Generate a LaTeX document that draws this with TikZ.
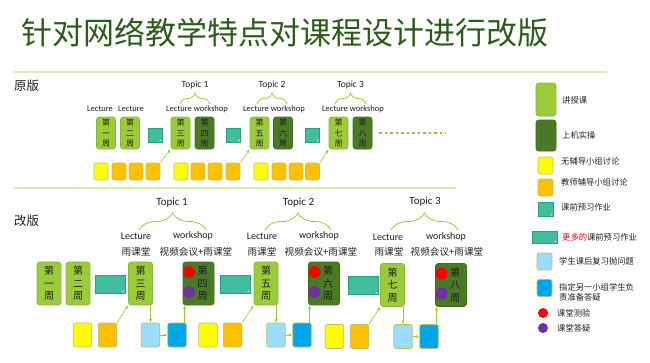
\documentclass[tikz,border=0pt]{standalone}
\usepackage{fontspec}
\setmainfont{Carlito}
\newfontfamily\cjk{Noto Sans CJK SC}
\usetikzlibrary{arrows.meta,calc,shapes.misc,decorations.pathreplacing}
\definecolor{ink}{HTML}{1E1E1E}
\definecolor{headgreen}{HTML}{2D5A1B}
\definecolor{sepgreen}{HTML}{D6ECB4}
\definecolor{lecgreen}{HTML}{9BCB3B}
\definecolor{lecedge}{HTML}{86B838}
\definecolor{labgreen}{HTML}{4A7A25}
\definecolor{labedge}{HTML}{3E6B1F}
\definecolor{selfyellow}{HTML}{FFFF00}
\definecolor{tutororange}{HTML}{FFC000}
\definecolor{tileedge}{HTML}{B3C466}
\definecolor{prepteal}{HTML}{40BF9F}
\definecolor{prepedge}{HTML}{2E9C80}
\definecolor{reviewblue}{HTML}{9BDCFF}
\definecolor{answerblue}{HTML}{00A6EA}
\definecolor{quizred}{HTML}{FF0000}
\definecolor{qapurple}{HTML}{7030A0}
\definecolor{linkgreen}{HTML}{9BCB3B}
\definecolor{dotgreen}{HTML}{8CC63F}
\definecolor{morered}{HTML}{FF0000}
\tikzset{
  >=Latex,
  every node/.style={text=ink},
  headline/.style={anchor=west,inner sep=0pt,text=headgreen,font=\cjk\fontsize{31}{34}\selectfont},
  sectitle/.style={inner sep=0pt,font=\cjk\fontsize{12.5}{14}\selectfont},
  sepline/.style={draw=sepgreen,line width=1.6pt},
  wkbox/.style={rounded corners=2.5pt,draw=lecedge,fill=lecgreen,align=center,inner sep=0pt,line width=0.6pt},
  lec/.style={wkbox,minimum width=19pt,minimum height=32pt,font=\cjk\fontsize{8}{10.5}\selectfont},
  lab/.style={lec,fill=labgreen,draw=labedge},
  rlec/.style={wkbox,minimum width=24pt,minimum height=43pt,font=\cjk\fontsize{10}{12.5}\selectfont},
  rlab/.style={rlec,fill=labgreen,draw=labedge,minimum width=31pt},
  wktext/.style={align=center,inner sep=0pt,font=\cjk\fontsize{10}{12.5}\selectfont},
  tile/.style={rounded corners=2pt,draw=tileedge,line width=0.6pt,minimum width=14pt,minimum height=17pt,inner sep=0pt},
  selftile/.style={tile,fill=selfyellow},
  tutortile/.style={tile,fill=tutororange},
  rtile/.style={tile,minimum width=18.5pt,minimum height=24pt},
  rself/.style={rtile,fill=selfyellow},
  rtutor/.style={rtile,fill=tutororange},
  reviewtile/.style={rtile,fill=reviewblue},
  answertile/.style={rtile,fill=answerblue},
  prep/.style={chamfered rectangle,chamfered rectangle corners=south east,
    chamfered rectangle xsep=2.5pt,chamfered rectangle ysep=2.5pt,
    draw=prepedge,fill=prepteal,line width=0.5pt,inner sep=0pt,minimum width=14pt,minimum height=14pt,
    path picture={\fill[prepteal!45!white] ($(path picture bounding box.south east)+(-2.5pt,0pt)$) -- ++(0pt,2.5pt) -- ++(2.5pt,0pt) -- cycle;}},
  rprep/.style={prep,minimum width=30pt,minimum height=18pt},
  quiz/.style={circle,fill=quizred,inner sep=0pt,minimum size=12pt},
  qa/.style={circle,fill=qapurple,inner sep=0pt,minimum size=12pt},
  link/.style={-{Latex[length=3.5pt,width=3pt]},draw=linkgreen,line width=0.6pt},
  topicbrace/.style={decorate,decoration={brace,amplitude=#1},draw=linkgreen,line width=0.8pt},
  otopic/.style={inner sep=0pt,font=\fontsize{9.5}{11}\selectfont},
  omode/.style={inner sep=0pt,font=\fontsize{8.5}{10}\selectfont},
  rtopic/.style={inner sep=0pt,font=\fontsize{11}{13}\selectfont},
  rmode/.style={inner sep=0pt,font=\fontsize{10}{12}\selectfont},
  rtool/.style={inner sep=0pt,font=\cjk\fontsize{9.6}{12}\selectfont},
  dots/.style={draw=dotgreen,line width=2.5pt,dash pattern=on 2.5pt off 3pt},
  keytext/.style={anchor=west,align=left,inner sep=0pt,font=\cjk\fontsize{8.3}{10.5}\selectfont},
}

\begin{document}
\begin{tikzpicture}[x=1pt,y=-1pt]
  \useasboundingbox (0,0) rectangle (650,362);
  \node[headline] (head) at (21,33) {针对网络教学特点对课程设计进行改版};
  \draw[sepline] (14,72) -- (607,72);
  \draw[sepline] (14,188) -- (456,188);
  \node[sectitle] (old) at (26.5,86) {原版};
  \node[sectitle] (new) at (26.5,221) {改版};

  \node[otopic] (otopic1) at (195,85) {Topic 1};
  \node[otopic] (otopic2) at (272,85) {Topic 2};
  \node[otopic] (otopic3) at (350.5,85) {Topic 3};
  \draw[topicbrace=11pt] (180,104) -- (210,104);
  \draw[topicbrace=11pt] (257,104) -- (287,104);
  \draw[topicbrace=11pt] (335,104) -- (366,104);
  \node[omode] (omode1) at (100,109) {Lecture};
  \node[omode] (omode2) at (131,109) {Lecture};
  \node[omode] (omode3) at (197,109) {Lecture workshop};
  \node[omode] (omode4) at (274,109) {Lecture workshop};
  \node[omode] (omode5) at (353,109) {Lecture workshop};

  \node[lec] (wk1) at (106,133) {第\\一\\周};
  \node[lec] (wk2) at (130,133) {第\\二\\周};
  \node[prep] (prep1) at (155,135) {};
  \node[lec] (wk3) at (180.5,133) {第\\三\\周};
  \node[lab] (wk4) at (204.5,133) {第\\四\\周};
  \node[prep] (prep2) at (233.5,135) {};
  \node[lec] (wk5) at (259.5,133) {第\\五\\周};
  \node[lab] (wk6) at (283,133) {第\\六\\周};
  \node[prep] (prep3) at (312.5,135) {};
  \node[lec] (wk7) at (338.5,133) {第\\七\\周};
  \node[lab] (wk8) at (362.5,133) {第\\八\\周};
  \coordinate (etcA) at (379,133);
  \coordinate (etcB) at (446,133);
  \draw[dots] (etcA) -- (etcB);

  \node[selftile] (self1) at (101,171.5) {};
  \node[tutortile] (tutor1a) at (119,171.5) {};
  \node[tutortile] (tutor1b) at (136,171.5) {};
  \node[tutortile] (tutor1c) at (153,171.5) {};
  \node[selftile] (self2) at (181,171.5) {};
  \node[tutortile] (tutor2a) at (198,171.5) {};
  \node[tutortile] (tutor2b) at (215,171.5) {};
  \node[tutortile] (tutor2c) at (233,171.5) {};
  \node[selftile] (self3) at (261,171.5) {};
  \node[tutortile] (tutor3a) at (279,171.5) {};
  \node[tutortile] (tutor3b) at (296,171.5) {};
  \node[tutortile] (tutor3c) at (312.5,171.5) {};
  \draw[link] (tutor1c.north east) -- (wk3.south west);
  \draw[link] (tutor2c.north east) -- (wk5.south west);
  \draw[link] (tutor3c.north east) -- (wk7.south west);

  \node[rtopic] (rtopic1) at (172,203) {Topic 1};
  \node[rtopic] (rtopic2) at (298.5,203) {Topic 2};
  \node[rtopic] (rtopic3) at (425,202) {Topic 3};
  \draw[topicbrace=17pt] (139,230) -- (206,230);
  \draw[topicbrace=17pt] (265,230) -- (331,230);
  \draw[topicbrace=17pt] (391,230) -- (458,230);
  \node[rmode] (rmode1) at (136,236) {Lecture};
  \node[rmode] (rmode2) at (193,236) {workshop};
  \node[rmode] (rmode3) at (262,236) {Lecture};
  \node[rmode] (rmode4) at (319,236) {workshop};
  \node[rmode] (rmode5) at (388,237) {Lecture};
  \node[rmode] (rmode6) at (446,237) {workshop};
  \node[rtool] (rtool1) at (136,252) {雨课堂};
  \node[rtool] (rtool2) at (196,252) {视频会议+雨课堂};
  \node[rtool] (rtool3) at (262,252) {雨课堂};
  \node[rtool] (rtool4) at (321,252) {视频会议+雨课堂};
  \node[rtool] (rtool5) at (389,252) {雨课堂};
  \node[rtool] (rtool6) at (447,252) {视频会议+雨课堂};

  \node[rlec] (rwk1) at (49,283.5) {第\\一\\周};
  \node[rlec] (rwk2) at (78,283.5) {第\\二\\周};
  \node[rprep] (rprep1) at (110,284) {};
  \node[rlec] (rwk3) at (140.5,283.5) {第\\三\\周};
  \node[rlab] (rwk4) at (198.5,283.5) {};
  \node[wktext] (rwk4t) at ($(rwk4.center)+(4,0)$) {第\\四\\周};
  \node[quiz] (quiz4) at ($(rwk4.center)+(-9.5,-11.5)$) {};
  \node[qa] (qa4) at ($(rwk4.center)+(-9.5,8.5)$) {};
  \node[rprep] (rprep2) at (235,284) {};
  \node[rlec] (rwk5) at (266,283.5) {第\\五\\周};
  \node[rlab] (rwk6) at (324,283.5) {};
  \node[wktext] (rwk6t) at ($(rwk6.center)+(4,0)$) {第\\六\\周};
  \node[quiz] (quiz6) at ($(rwk6.center)+(-9.5,-11.5)$) {};
  \node[qa] (qa6) at ($(rwk6.center)+(-9.5,8.5)$) {};
  \node[rprep] (rprep3) at (363,285.5) {};
  \node[rlec] (rwk7) at (392.5,285) {第\\七\\周};
  \node[rlab] (rwk8) at (451,285) {};
  \node[wktext] (rwk8t) at ($(rwk8.center)+(4,0)$) {第\\八\\周};
  \node[quiz] (quiz8) at ($(rwk8.center)+(-9.5,-11.5)$) {};
  \node[qa] (qa8) at ($(rwk8.center)+(-9.5,8.5)$) {};

  \node[rself] (rself1) at (82.5,335) {};
  \node[rtutor] (rtutor1) at (107.5,335) {};
  \node[reviewtile] (review1) at (150.5,335) {};
  \node[answertile] (answer1) at (177,335) {};
  \node[rself] (rself2) at (208,335) {};
  \node[rtutor] (rtutor2) at (232.5,335) {};
  \node[reviewtile] (review2) at (276,335) {};
  \node[answertile] (answer2) at (302,335) {};
  \node[rself] (rself3) at (334.5,336.5) {};
  \node[rtutor] (rtutor3) at (359.5,336.5) {};
  \node[reviewtile] (review3) at (403,336.5) {};
  \node[answertile] (answer3) at (429,336.5) {};
  \draw[link] (rtutor1.north east) -- (rwk3.south west);
  \draw[link] (rwk3.south -| review1.north) -- (review1.north);
  \draw[link] (review1) -- (answer1);
  \draw[link] ([xshift=7.5pt]answer1.north) -- ([xshift=7.5pt]answer1.north |- rwk4.south);
  \draw[link] (rtutor2.north east) -- (rwk5.south west);
  \draw[link] (rwk5.south -| review2.north) -- (review2.north);
  \draw[link] (review2) -- (answer2);
  \draw[link] ([xshift=7.5pt]answer2.north) -- ([xshift=7.5pt]answer2.north |- rwk6.south);
  \draw[link] (rtutor3.north east) -- (rwk7.south west);
  \draw[link] (rwk7.south -| review3.north) -- (review3.north);
  \draw[link] (review3) -- (answer3);
  \draw[link] ([xshift=7.5pt]answer3.north) -- ([xshift=7.5pt]answer3.north |- rwk8.south);

  \node[lec,minimum width=20pt,minimum height=33pt] (keylec) at (546,99.5) {};
  \node[keytext] (keylect) at (562,100) {讲授课};
  \node[lab,minimum width=20pt,minimum height=31pt] (keylab) at (546,135.5) {};
  \node[keytext] (keylabt) at (562,135) {上机实操};
  \node[selftile,minimum width=15pt] (keyself) at (545.5,165.5) {};
  \node[keytext] (keyselft) at (561,161) {无辅导小组讨论};
  \node[tutortile,minimum width=15pt] (keytutor) at (545.5,187.5) {};
  \node[keytext] (keytutort) at (561,182) {教师辅导小组讨论};
  \node[prep,minimum width=15pt] (keyprep) at (545.5,209) {};
  \node[keytext] (keyprept) at (561,207) {课前预习作业};
  \node[rprep,minimum width=25pt,minimum height=12pt] (keymore) at (544.5,237) {};
  \node[keytext] (keymoret) at (562,237) {\textcolor{morered}{更多的}课前预习作业};
  \node[reviewtile,minimum width=15pt,minimum height=17pt] (keyreview) at (544.5,261.5) {};
  \node[keytext] (keyreviewt) at (559,261) {学生课后复习抛问题};
  \node[answertile,minimum width=15pt,minimum height=17pt] (keyanswer) at (544.5,288) {};
  \node[keytext] (keyanswert) at (559,292.5) {指定另一小组学生负\\责准备答疑};
  \node[quiz,minimum size=10pt] (keyquiz) at (543,313) {};
  \node[keytext] (keyquizt) at (557,313) {课堂测验};
  \node[qa,minimum size=10pt] (keyqa) at (543,328) {};
  \node[keytext] (keyqat) at (557,328) {课堂答疑};
\end{tikzpicture}
\end{document}
